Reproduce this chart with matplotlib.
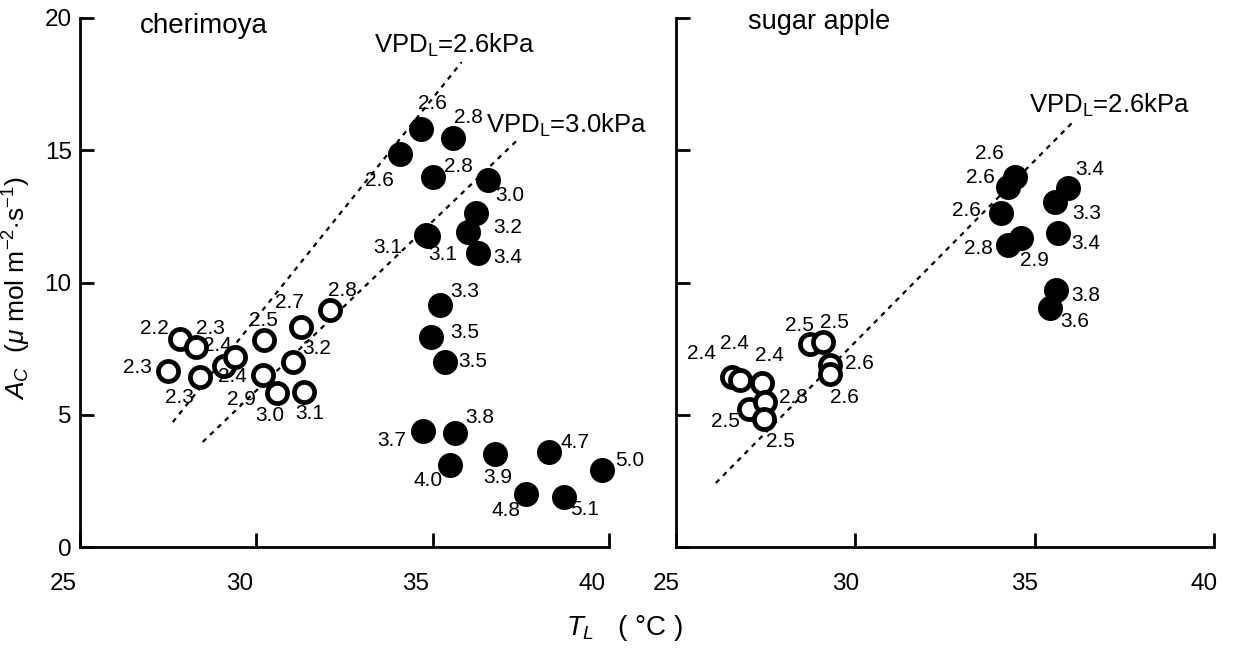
import matplotlib
matplotlib.use("Agg")
import matplotlib.pyplot as plt
import matplotlib.transforms as mtransforms

plt.rcParams['font.family'] = ['Liberation Sans', 'DejaVu Sans']
plt.rcParams['mathtext.fontset'] = 'custom'
plt.rcParams['mathtext.rm'] = 'Liberation Sans'
plt.rcParams['mathtext.it'] = 'Liberation Sans:italic'
plt.rcParams['mathtext.bf'] = 'Liberation Sans:bold'

# ---------------- data ----------------
# cherimoya, open circles (low VPD)
cher_open_T = [27.83, 28.29, 27.49, 28.40, 29.08, 29.39, 30.21, 30.18, 30.58, 31.03, 31.26, 31.35, 32.08]
cher_open_A = [7.86, 7.56, 6.65, 6.42, 6.84, 7.18, 7.82, 6.50, 5.82, 6.99, 8.31, 5.86, 8.96]
cher_open_vpd = ['2.2', '2.3', '2.3', '2.3', '2.4', '2.4', '2.5', '2.9', '3.0', '3.2', '2.7', '3.1', '2.8']

# cherimoya, filled circles
cher_fill_T = [34.68, 34.07, 35.58, 35.01, 36.57, 36.24, 36.00, 36.28, 34.82, 34.86,
               35.20, 34.96, 35.34, 34.73, 35.62, 35.48, 36.76, 38.29, 37.65, 38.72, 39.81]
cher_fill_A = [15.79, 14.85, 15.48, 13.99, 13.87, 12.61, 11.92, 11.10, 11.79, 11.74,
               9.15, 7.95, 7.00, 4.40, 4.30, 3.10, 3.51, 3.60, 1.99, 1.90, 2.91]
cher_fill_vpd = ['2.6', '2.6', '2.8', '2.8', '3.0', '3.2', '', '3.4', '3.1', '3.1',
                 '3.3', '3.5', '3.5', '3.7', '3.8', '4.0', '3.9', '4.7', '4.8', '5.1', '5.0']

# sugar apple, open circles
sug_open_T = [26.55, 26.78, 27.39, 27.04, 27.48, 27.46, 28.73, 29.09, 29.29, 29.29]
sug_open_A = [6.44, 6.31, 6.19, 5.20, 5.49, 4.83, 7.67, 7.76, 6.88, 6.54]
sug_open_vpd = ['2.4', '2.4', '2.4', '2.5', '2.8', '2.5', '2.5', '2.5', '2.6', '2.6']

# sugar apple, filled circles
sug_fill_T = [34.44, 34.26, 34.07, 34.26, 34.63, 35.93, 35.58, 35.65, 35.60, 35.42]
sug_fill_A = [13.97, 13.62, 12.61, 11.41, 11.67, 13.56, 13.05, 11.88, 9.71, 9.02]
sug_fill_vpd = ['2.6', '2.6', '2.6', '2.8', '2.9', '3.4', '3.3', '3.4', '3.8', '3.6']

# VPD_L iso-lines (end points)
cher_vpd26_T = [27.63, 35.82]
cher_vpd26_A = [4.72, 18.33]
cher_vpd30_T = [28.48, 37.46]
cher_vpd30_A = [3.97, 15.46]
sug_vpd26_T = [26.11, 36.06]
sug_vpd26_A = [2.42, 16.06]

x_ticks = [25, 30, 35, 40]
y_ticks = [0, 5, 10, 15, 20]

# ---------------- label offsets (pixels) ----------------
cher_open_off = [(-25, 11), (14, 19), (-30, 4), (-20, -20), (9, -10), (-17, 12), (0, 20),
                 (-21, -24), (-7, -22), (24, 14), (-11, 25), (6, -21), (13, 20)]
cher_fill_off = [(11, 26), (-20, -26), (15, 20), (25, 10), (22, -15), (31, -14), (0, 0),
                 (30, -4), (-39, -12), (15, -18), (25, 13), (33, 4), (28, 0), (-31, -10),
                 (25, 16), (-22, -15), (3, -23), (26, 9), (-20, -16), (21, -13), (27, 10)]
sug_open_off = [(-30, 23), (-5, 37), (8, 28), (-24, -12), (28, 4), (16, -22), (-10, 19),
                (12, 19), (30, 2), (15, -23)]
sug_fill_off = [(-25, 24), (-28, 9), (-35, 3), (-30, -3), (13, -22), (22, 19), (31, -12),
                (28, -11), (30, -5), (25, -13)]

W, H = 1233, 649
fig = plt.figure(figsize=(W / 100, H / 100), dpi=100)
ax1 = fig.add_axes([80 / W, (H - 547) / H, (609 - 80) / W, (547 - 18) / H])
ax2 = fig.add_axes([676 / W, (H - 547) / H, (1214 - 676) / W, (547 - 18) / H])

lab_fs = 15
filled_ms = 18
open_ms = 14.5
open_mew = 3.4


def draw_points(ax, xs, ys, labels, offs, filled):
    for x, y in zip(xs, ys):
        if filled:
            ax.plot([x], [y], 'o', ms=filled_ms, mfc='black', mec='black', mew=0,
                    zorder=3, clip_on=False)
        else:
            ax.plot([x], [y], 'o', ms=open_ms, mfc='white', mec='black', mew=open_mew,
                    zorder=3, clip_on=False)
    for x, y, lab, off in zip(xs, ys, labels, offs):
        if lab:
            ax.annotate(lab, (x, y), xytext=off, textcoords='offset pixels',
                        ha='center', va='center', fontsize=lab_fs, zorder=5,
                        annotation_clip=False)


def style_axis(ax, show_ylabels, xshift):
    ax.set_xlim(25, 40)
    ax.set_ylim(0, 20)
    ax.spines['top'].set_visible(False)
    ax.spines['right'].set_visible(False)
    for s in ('left', 'bottom'):
        ax.spines[s].set_linewidth(2.0)
    ax.set_xticks(x_ticks)
    ax.set_yticks(y_ticks)
    ax.tick_params(axis='both', direction='in', length=10, width=2.0, labelsize=17.5)
    ax.tick_params(axis='x', pad=19)
    ax.tick_params(axis='y', pad=6)
    if not show_ylabels:
        ax.set_yticklabels([])
    off = mtransforms.ScaledTranslation(xshift / 100, 0, fig.dpi_scale_trans)
    for lbl in ax.get_xticklabels():
        lbl.set_transform(lbl.get_transform() + off)


style_axis(ax1, True, -17)
style_axis(ax2, False, -10)

dash = (0, (2.2, 2.4))
ax1.plot(cher_vpd26_T, cher_vpd26_A, color='black', lw=1.6, ls=dash, zorder=2, clip_on=False)
ax1.plot(cher_vpd30_T, cher_vpd30_A, color='black', lw=1.6, ls=dash, zorder=2, clip_on=False)
ax2.plot(sug_vpd26_T, sug_vpd26_A, color='black', lw=1.6, ls=dash, zorder=2, clip_on=False)

draw_points(ax1, cher_open_T, cher_open_A, cher_open_vpd, cher_open_off, False)
draw_points(ax1, cher_fill_T, cher_fill_A, cher_fill_vpd, cher_fill_off, True)
draw_points(ax2, sug_open_T, sug_open_A, sug_open_vpd, sug_open_off, False)
draw_points(ax2, sug_fill_T, sug_fill_A, sug_fill_vpd, sug_fill_off, True)

# panel titles
ax1.text(26.7, 19.7, 'cherimoya', fontsize=20, ha='left', va='center')
ax2.text(27.0, 19.85, 'sugar apple', fontsize=19.5, ha='left', va='center')

# VPD annotations
ax1.text(33.35, 18.95, r'VPD$_{\mathrm{L}}$=2.6kPa', fontsize=18.5, ha='left', va='center')
ax1.text(36.5, 15.95, r'VPD$_{\mathrm{L}}$=3.0kPa', fontsize=18.5, ha='left', va='center')
ax2.text(34.85, 16.7, r'VPD$_{\mathrm{L}}$=2.6kPa', fontsize=18.5, ha='left', va='center')

# axis labels
ax1.set_ylabel(r'$A_C$  ($\mu$ mol m$^{-2}$$\cdot$s$^{-1}$)', fontsize=19)
ax1.yaxis.set_label_coords(-0.088, 0.49)
fig.text(625 / W, 1 - 628 / H, r'$T_L$   ( °C )', fontsize=20, ha='center', va='center')

fig.savefig('out.png', dpi=100)
